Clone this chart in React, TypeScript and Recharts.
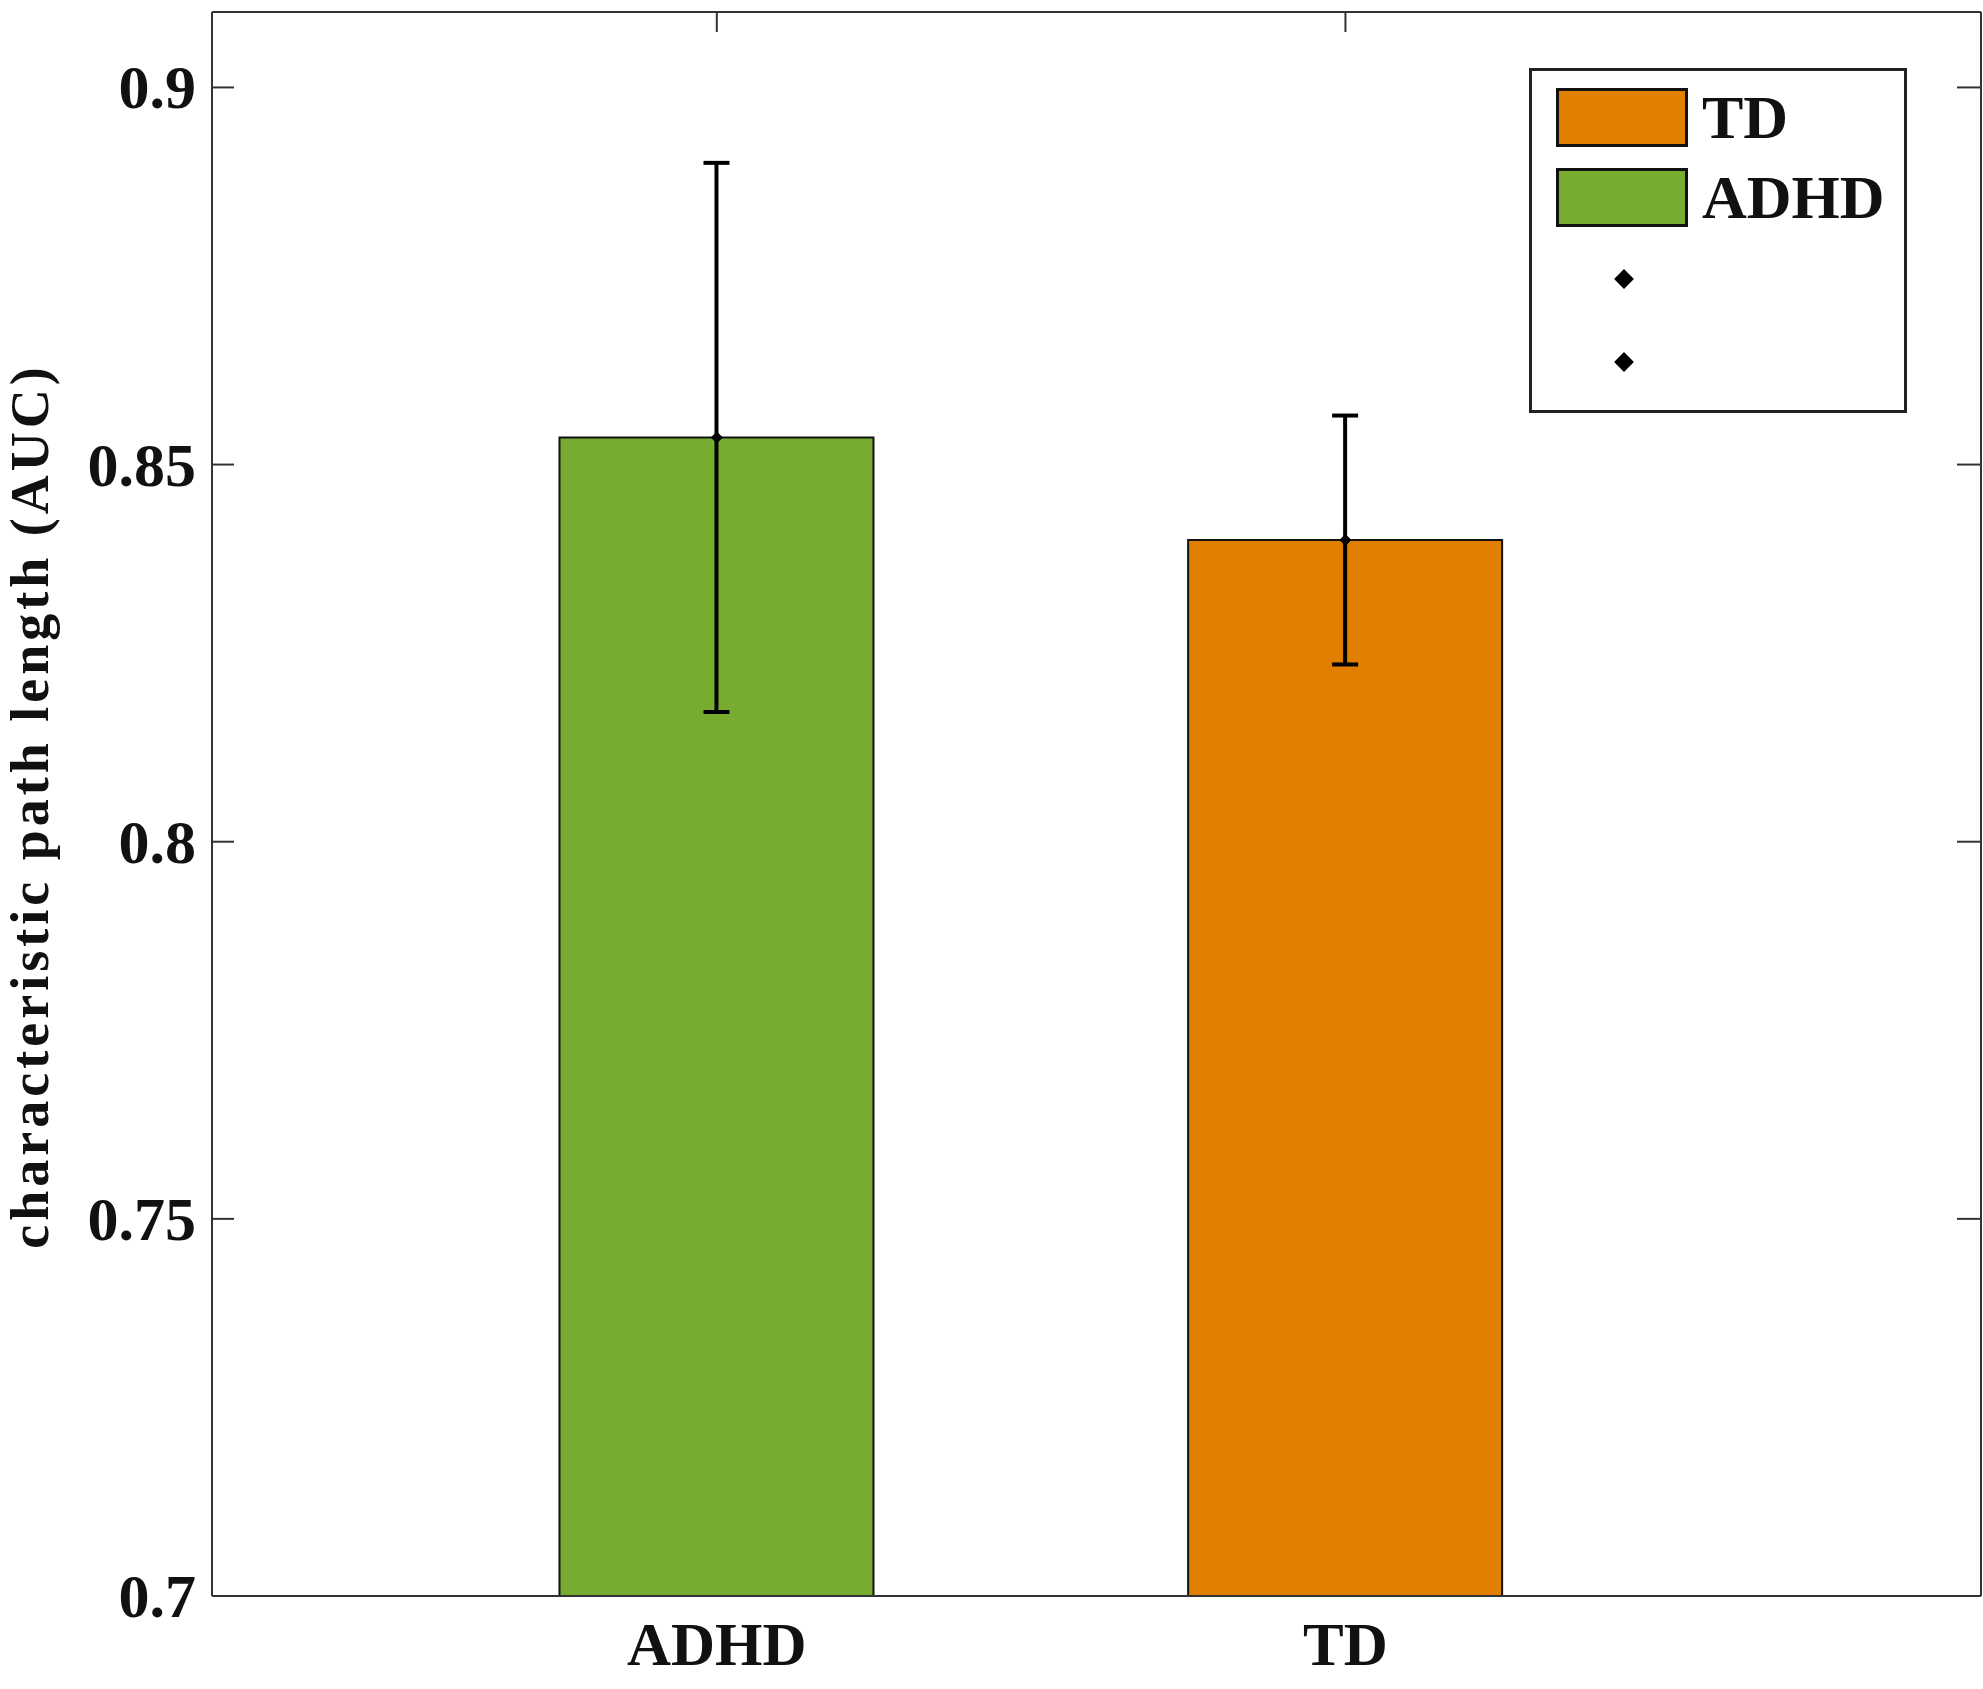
import React from "react"
import {
  Bar,
  Cell,
  ComposedChart,
  ErrorBar,
  Legend,
  Scatter,
  XAxis,
  YAxis,
} from "recharts"

// values
const categories = ["ADHD", "TD"]
const positions = [1, 2]
const means = [0.8536, 0.84]
const errors = [0.0364, 0.0165]
const barColors = ["#77AC30", "#E07F00"]
const yTicks = [0.7, 0.75, 0.8, 0.85, 0.9]
const legendOrder = ["TD", "ADHD"]

const FONT = "'Liberation Serif', 'DejaVu Serif', serif"
const AXIS = "#333"
const X_DOMAIN: [number, number] = [0.197, 3.011]
const Y_DOMAIN: [number, number] = [0.7, 0.91]

const data = categories.map((name, i) => ({
  x: positions[i],
  name,
  mean: means[i],
  err: errors[i],
}))

const LeftTick = (props: any) => {
  const { x, y, payload } = props
  return (
    <g>
      <line x1={x} x2={x + 22} y1={y} y2={y} stroke={AXIS} strokeWidth={2} />
      <text
        x={x - 16}
        y={y + 21}
        textAnchor="end"
        fontFamily={FONT}
        fontWeight="bold"
        fontSize={62}
        fill="#111"
      >
        {String(payload.value)}
      </text>
    </g>
  )
}

const RightTick = (props: any) => {
  const { x, y } = props
  return <line x1={x - 24} x2={x} y1={y} y2={y} stroke={AXIS} strokeWidth={2} />
}

const BottomTick = (props: any) => {
  const { x, y, payload } = props
  const idx = positions.indexOf(payload.value)
  return (
    <text
      x={x}
      y={y + 69}
      textAnchor="middle"
      fontFamily={FONT}
      fontWeight="bold"
      fontSize={61}
      fill="#111"
    >
      {idx >= 0 ? categories[idx] : ""}
    </text>
  )
}

const TopTick = (props: any) => {
  const { x, y } = props
  return <line x1={x} x2={x} y1={y} y2={y + 20} stroke={AXIS} strokeWidth={2} />
}

const Diamond = (props: any) => {
  const { cx, cy } = props
  const r = 6
  return <path d={`M${cx},${cy - r}L${cx + r},${cy}L${cx},${cy + r}L${cx - r},${cy}Z`} fill="#000" />
}

const LegendBox = () => {
  const swatch = (color: string): React.CSSProperties => ({
    width: 132,
    height: 59,
    background: color,
    border: "3px solid #111",
    boxSizing: "border-box",
  })
  const diamond: React.CSSProperties = {
    width: 14,
    height: 14,
    background: "#000",
    transform: "rotate(45deg)",
  }
  return (
    <div
      style={{
        width: 378,
        height: 345,
        border: "3px solid #222",
        boxSizing: "border-box",
        background: "#fff",
        position: "relative",
        fontFamily: FONT,
        fontWeight: "bold",
        fontSize: 62,
        color: "#111",
      }}
    >
      {legendOrder.map((name, i) => (
        <div
          key={name}
          style={{ position: "absolute", left: 24, top: 15 + i * 80, display: "flex", alignItems: "center" }}
        >
          <div style={swatch(barColors[categories.indexOf(name)])} />
          <span style={{ marginLeft: 14, lineHeight: "62px" }}>{name}</span>
        </div>
      ))}
      <div style={{ ...diamond, position: "absolute", left: 85, top: 201 }} />
      <div style={{ ...diamond, position: "absolute", left: 85, top: 284 }} />
    </div>
  )
}

export default function App() {
  return (
    <div style={{ position: "absolute", left: 0, top: 0, background: "#fff" }}>
      <ComposedChart
        width={1983}
        height={1689}
        data={data}
        margin={{ top: 11, right: 1, bottom: 0, left: 0 }}
      >
        <XAxis
          dataKey="x"
          type="number"
          domain={X_DOMAIN}
          allowDataOverflow
          ticks={positions}
          height={93}
          axisLine={{ stroke: AXIS, strokeWidth: 2 }}
          tickLine={false}
          tickSize={0}
          tickMargin={0}
          tick={BottomTick}
        />
        <XAxis
          xAxisId="top"
          orientation="top"
          dataKey="x"
          type="number"
          domain={X_DOMAIN}
          allowDataOverflow
          ticks={positions}
          height={1}
          axisLine={{ stroke: AXIS, strokeWidth: 2 }}
          tickLine={false}
          tickSize={0}
          tickMargin={0}
          tick={TopTick}
        />
        <YAxis
          type="number"
          domain={Y_DOMAIN}
          allowDataOverflow
          ticks={yTicks}
          width={212}
          axisLine={{ stroke: AXIS, strokeWidth: 2 }}
          tickLine={false}
          tickSize={0}
          tickMargin={0}
          tick={LeftTick}
          label={{
            content: () => (
              <text
                transform="translate(30, 806) rotate(-90)"
                textAnchor="middle"
                dominantBaseline="central"
                fontFamily={FONT}
                fontWeight="bold"
                fontSize={54}
                letterSpacing={4}
                fill="#111"
              >
                characteristic path length (AUC)
              </text>
            ),
          }}
        />
        <YAxis
          yAxisId="right"
          orientation="right"
          type="number"
          domain={Y_DOMAIN}
          allowDataOverflow
          ticks={yTicks}
          width={1}
          axisLine={{ stroke: AXIS, strokeWidth: 2 }}
          tickLine={false}
          tickSize={0}
          tickMargin={0}
          tick={RightTick}
        />
        <Legend
          layout="vertical"
          align="center"
          verticalAlign="middle"
          wrapperStyle={{ left: 1529, top: 68, width: 378, height: 345 }}
          content={() => <LegendBox />}
        />
        <Bar dataKey="mean" barSize={314} stroke="#111" strokeWidth={2} isAnimationActive={false}>
          {data.map((d, i) => (
            <Cell key={d.name} fill={barColors[i]} />
          ))}
          <ErrorBar dataKey="err" width={13} stroke="#000" strokeWidth={4} direction="y" />
        </Bar>
        <Scatter
          xAxisId="top"
          yAxisId="right"
          dataKey="mean"
          shape={Diamond}
          isAnimationActive={false}
        />
      </ComposedChart>
    </div>
  )
}
